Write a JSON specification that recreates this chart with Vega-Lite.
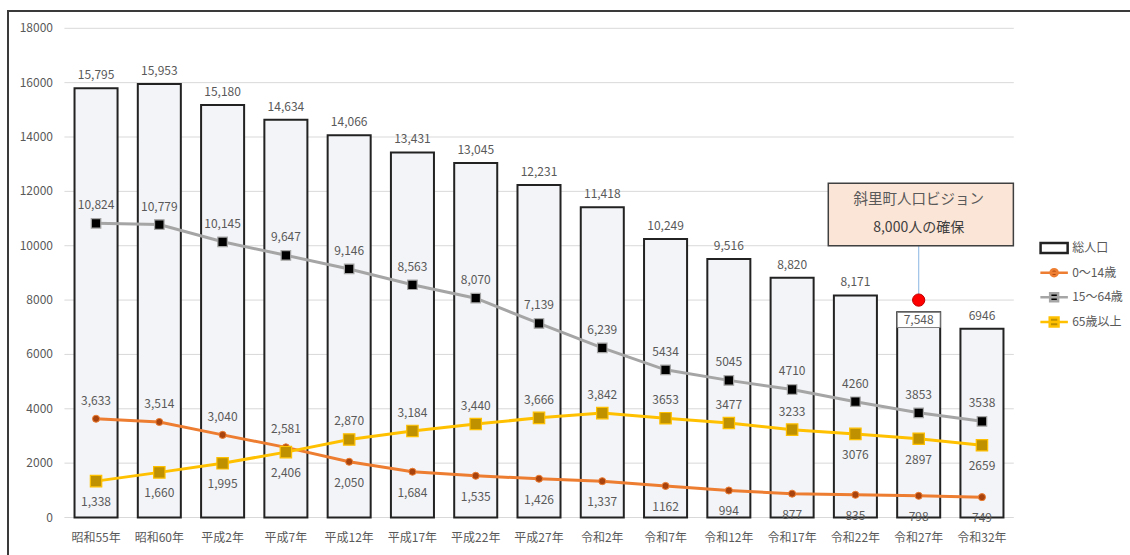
{
  "$schema": "https://vega.github.io/schema/vega-lite/v6.json",
  "width": 1128,
  "height": 550,
  "autosize": {"type": "none"},
  "padding": {"left": 8, "top": 11, "right": -6, "bottom": -6},
  "background": "white",
  "config": {
    "view": {"stroke": "#3a3a3a", "strokeWidth": 2},
    "font": "Noto Sans CJK JP",
    "text": {"font": "Noto Sans CJK JP", "fontSize": 12, "color": "#595959"}
  },
  "datasets": {
    "pop": [
      {"year": "昭和55年", "total": 15795, "tlabel": "15,795"},
      {"year": "昭和60年", "total": 15953, "tlabel": "15,953"},
      {"year": "平成2年", "total": 15180, "tlabel": "15,180"},
      {"year": "平成7年", "total": 14634, "tlabel": "14,634"},
      {"year": "平成12年", "total": 14066, "tlabel": "14,066"},
      {"year": "平成17年", "total": 13431, "tlabel": "13,431"},
      {"year": "平成22年", "total": 13045, "tlabel": "13,045"},
      {"year": "平成27年", "total": 12231, "tlabel": "12,231"},
      {"year": "令和2年", "total": 11418, "tlabel": "11,418"},
      {"year": "令和7年", "total": 10249, "tlabel": "10,249"},
      {"year": "令和12年", "total": 9516, "tlabel": "9,516"},
      {"year": "令和17年", "total": 8820, "tlabel": "8,820"},
      {"year": "令和22年", "total": 8171, "tlabel": "8,171"},
      {"year": "令和27年", "total": 7548, "tlabel": "7,548"},
      {"year": "令和32年", "total": 6946, "tlabel": "6946"}
    ],
    "age": [
      {"year": "昭和55年", "series": "0～14歳", "value": 3633, "label": "3,633"},
      {"year": "昭和60年", "series": "0～14歳", "value": 3514, "label": "3,514"},
      {"year": "平成2年", "series": "0～14歳", "value": 3040, "label": "3,040"},
      {"year": "平成7年", "series": "0～14歳", "value": 2581, "label": "2,581"},
      {"year": "平成12年", "series": "0～14歳", "value": 2050, "label": "2,050"},
      {"year": "平成17年", "series": "0～14歳", "value": 1684, "label": "1,684"},
      {"year": "平成22年", "series": "0～14歳", "value": 1535, "label": "1,535"},
      {"year": "平成27年", "series": "0～14歳", "value": 1426, "label": "1,426"},
      {"year": "令和2年", "series": "0～14歳", "value": 1337, "label": "1,337"},
      {"year": "令和7年", "series": "0～14歳", "value": 1162, "label": "1162"},
      {"year": "令和12年", "series": "0～14歳", "value": 994, "label": "994"},
      {"year": "令和17年", "series": "0～14歳", "value": 877, "label": "877"},
      {"year": "令和22年", "series": "0～14歳", "value": 835, "label": "835"},
      {"year": "令和27年", "series": "0～14歳", "value": 798, "label": "798"},
      {"year": "令和32年", "series": "0～14歳", "value": 749, "label": "749"},
      {"year": "昭和55年", "series": "15～64歳", "value": 10824, "label": "10,824"},
      {"year": "昭和60年", "series": "15～64歳", "value": 10779, "label": "10,779"},
      {"year": "平成2年", "series": "15～64歳", "value": 10145, "label": "10,145"},
      {"year": "平成7年", "series": "15～64歳", "value": 9647, "label": "9,647"},
      {"year": "平成12年", "series": "15～64歳", "value": 9146, "label": "9,146"},
      {"year": "平成17年", "series": "15～64歳", "value": 8563, "label": "8,563"},
      {"year": "平成22年", "series": "15～64歳", "value": 8070, "label": "8,070"},
      {"year": "平成27年", "series": "15～64歳", "value": 7139, "label": "7,139"},
      {"year": "令和2年", "series": "15～64歳", "value": 6239, "label": "6,239"},
      {"year": "令和7年", "series": "15～64歳", "value": 5434, "label": "5434"},
      {"year": "令和12年", "series": "15～64歳", "value": 5045, "label": "5045"},
      {"year": "令和17年", "series": "15～64歳", "value": 4710, "label": "4710"},
      {"year": "令和22年", "series": "15～64歳", "value": 4260, "label": "4260"},
      {"year": "令和27年", "series": "15～64歳", "value": 3853, "label": "3853"},
      {"year": "令和32年", "series": "15～64歳", "value": 3538, "label": "3538"},
      {"year": "昭和55年", "series": "65歳以上", "value": 1338, "label": "1,338"},
      {"year": "昭和60年", "series": "65歳以上", "value": 1660, "label": "1,660"},
      {"year": "平成2年", "series": "65歳以上", "value": 1995, "label": "1,995"},
      {"year": "平成7年", "series": "65歳以上", "value": 2406, "label": "2,406"},
      {"year": "平成12年", "series": "65歳以上", "value": 2870, "label": "2,870"},
      {"year": "平成17年", "series": "65歳以上", "value": 3184, "label": "3,184"},
      {"year": "平成22年", "series": "65歳以上", "value": 3440, "label": "3,440"},
      {"year": "平成27年", "series": "65歳以上", "value": 3666, "label": "3,666"},
      {"year": "令和2年", "series": "65歳以上", "value": 3842, "label": "3,842"},
      {"year": "令和7年", "series": "65歳以上", "value": 3653, "label": "3653"},
      {"year": "令和12年", "series": "65歳以上", "value": 3477, "label": "3477"},
      {"year": "令和17年", "series": "65歳以上", "value": 3233, "label": "3233"},
      {"year": "令和22年", "series": "65歳以上", "value": 3076, "label": "3076"},
      {"year": "令和27年", "series": "65歳以上", "value": 2897, "label": "2897"},
      {"year": "令和32年", "series": "65歳以上", "value": 2659, "label": "2659"}
    ],
    "grid": [{"g": 0}, {"g": 2000}, {"g": 4000}, {"g": 6000}, {"g": 8000}, {"g": 10000}, {"g": 12000}, {"g": 14000}, {"g": 16000}, {"g": 18000}],
    "legendItems": [{"series": "総人口"}, {"series": "0～14歳"}, {"series": "15～64歳"}, {"series": "65歳以上"}]
  },
  "layer": [
    {
      "layer": [
        {
          "data": {"name": "grid"},
          "mark": {"type": "rule", "color": "#D9D9D9", "strokeWidth": 1},
          "encoding": {
            "y": {"field": "g", "type": "quantitative", "axis": null},
            "x": {"datum": "昭和55年", "type": "ordinal", "bandPosition": -0.235, "axis": null},
            "x2": {"datum": "令和32年", "bandPosition": 1.24}
          }
        },
        {
          "data": {"name": "grid"},
          "mark": {"type": "text", "align": "right", "baseline": "middle", "fontSize": 12, "color": "#595959"},
          "encoding": {
            "y": {"field": "g", "type": "quantitative", "axis": null},
            "x": {"datum": "昭和55年", "type": "ordinal", "bandPosition": -0.5, "axis": null},
            "text": {"field": "g", "type": "quantitative", "format": "d"}
          }
        },
        {
          "data": {"name": "pop"},
          "mark": {"type": "bar", "fill": "#F3F4F7", "stroke": "#222222", "strokeWidth": 2},
          "encoding": {
            "x": {
              "field": "year", "type": "ordinal", "sort": null,
              "scale": {
                "domain": ["昭和55年", "昭和60年", "平成2年", "平成7年", "平成12年", "平成17年", "平成22年", "平成27年", "令和2年", "令和7年", "令和12年", "令和17年", "令和22年", "令和27年", "令和32年"],
                "range": [56.4, 1005.6], "paddingInner": 0.32, "paddingOuter": 0.16
              },
              "axis": null
            },
            "y": {
              "field": "total", "type": "quantitative",
              "scale": {"domain": [0, 18000], "range": [506.5, 17.3], "nice": false, "zero": true},
              "axis": null
            }
          }
        },
        {
          "data": {"name": "pop"},
          "mark": {"type": "text", "baseline": "middle", "dy": 20, "fontSize": 12, "color": "#595959"},
          "encoding": {
            "x": {"field": "year", "type": "ordinal"},
            "y": {"datum": 0, "type": "quantitative"},
            "text": {"field": "year"}
          }
        },
        {
          "data": {"name": "pop"},
          "transform": [{"filter": "datum.year !== '令和27年'"}],
          "mark": {"type": "text", "baseline": "middle", "dy": -13},
          "encoding": {
            "x": {"field": "year", "type": "ordinal"},
            "y": {"field": "total", "type": "quantitative"},
            "text": {"field": "tlabel"}
          }
        },
        {
          "data": {"name": "pop"},
          "transform": [{"filter": "datum.year === '令和27年'"}],
          "mark": {"type": "bar", "fill": "white", "stroke": "#7F7F7F", "strokeWidth": 1},
          "encoding": {
            "x": {"field": "year", "type": "ordinal"},
            "y": {"field": "total", "type": "quantitative"},
            "y2": {"datum": 6990}
          }
        },
        {
          "data": {"name": "pop"},
          "transform": [{"filter": "datum.year === '令和27年'"}],
          "mark": {"type": "text", "baseline": "middle", "dy": 8},
          "encoding": {
            "x": {"field": "year", "type": "ordinal"},
            "y": {"field": "total", "type": "quantitative"},
            "text": {"field": "tlabel"}
          }
        },
        {
          "data": {"name": "age"},
          "mark": {"type": "line", "strokeWidth": 3},
          "encoding": {
            "x": {"field": "year", "type": "ordinal"},
            "y": {"field": "value", "type": "quantitative"},
            "stroke": {
              "field": "series", "type": "nominal", "legend": null,
              "scale": {"domain": ["総人口", "0～14歳", "15～64歳", "65歳以上"], "range": ["#222222", "#ED7D31", "#A5A5A5", "#FFC000"]}
            }
          }
        },
        {
          "data": {"name": "age"},
          "transform": [{"filter": "datum.series === '0～14歳'"}],
          "mark": {"type": "point", "filled": true, "shape": "circle", "size": 50, "strokeWidth": 1, "opacity": 1},
          "encoding": {
            "x": {"field": "year", "type": "ordinal"},
            "y": {"field": "value", "type": "quantitative"},
            "fill": {"field": "series", "type": "nominal", "legend": null, "scale": {"domain": ["総人口", "0～14歳", "15～64歳", "65歳以上"], "range": ["#FFFFFF", "#A8430D", "#000000", "#BF9000"]}},
            "stroke": {"field": "series", "type": "nominal", "legend": null}
          }
        },
        {
          "data": {"name": "age"},
          "transform": [{"filter": "datum.series !== '0～14歳'"}],
          "mark": {"type": "point", "filled": true, "shape": "square", "strokeWidth": 1.2, "opacity": 1},
          "encoding": {
            "x": {"field": "year", "type": "ordinal"},
            "y": {"field": "value", "type": "quantitative"},
            "fill": {"field": "series", "type": "nominal", "legend": null},
            "stroke": {"field": "series", "type": "nominal", "legend": null},
            "size": {"field": "series", "type": "nominal", "legend": null, "scale": {"domain": ["15～64歳", "65歳以上"], "range": [90, 130]}}
          }
        },
        {
          "data": {"name": "age"},
          "transform": [{"filter": "datum.series === '15～64歳' || (datum.series === '0～14歳' && indexof(['昭和55年','昭和60年','平成2年','平成7年'], datum.year) >= 0) || (datum.series === '65歳以上' && indexof(['平成12年','平成17年','平成22年','平成27年','令和2年','令和7年','令和12年','令和17年'], datum.year) >= 0)"}],
          "mark": {"type": "text", "baseline": "middle", "dy": -18},
          "encoding": {
            "x": {"field": "year", "type": "ordinal"},
            "y": {"field": "value", "type": "quantitative"},
            "text": {"field": "label"}
          }
        },
        {
          "data": {"name": "age"},
          "transform": [{"filter": "!(datum.series === '15～64歳' || (datum.series === '0～14歳' && indexof(['昭和55年','昭和60年','平成2年','平成7年'], datum.year) >= 0) || (datum.series === '65歳以上' && indexof(['平成12年','平成17年','平成22年','平成27年','令和2年','令和7年','令和12年','令和17年'], datum.year) >= 0))"}],
          "mark": {"type": "text", "baseline": "middle", "dy": 21},
          "encoding": {
            "x": {"field": "year", "type": "ordinal"},
            "y": {"field": "value", "type": "quantitative"},
            "text": {"field": "label"}
          }
        },
        {
          "data": {"values": [{}]},
          "mark": {"type": "rule", "color": "#9DC3E6", "strokeWidth": 1.2},
          "encoding": {
            "x": {"datum": "令和27年", "type": "ordinal"},
            "y": {"datum": 10000, "type": "quantitative"},
            "y2": {"datum": 8000}
          }
        },
        {
          "data": {"values": [{}]},
          "mark": {"type": "rect", "fill": "#FBE5D6", "stroke": "#404040", "strokeWidth": 1.5},
          "encoding": {
            "x": {"datum": "令和22年", "type": "ordinal", "bandPosition": -0.13},
            "x2": {"datum": "令和32年", "bandPosition": 1.23},
            "y": {"datum": 12300, "type": "quantitative"},
            "y2": {"datum": 10000}
          }
        },
        {
          "data": {"values": [{}]},
          "mark": {"type": "text", "baseline": "middle", "fontSize": 14.5, "color": "#595959"},
          "encoding": {
            "x": {"datum": "令和27年", "type": "ordinal"},
            "y": {"datum": 11683, "type": "quantitative"},
            "text": {"value": "斜里町人口ビジョン"}
          }
        },
        {
          "data": {"values": [{}]},
          "mark": {"type": "text", "baseline": "middle", "fontSize": 14, "color": "#404040"},
          "encoding": {
            "x": {"datum": "令和27年", "type": "ordinal"},
            "y": {"datum": 10652, "type": "quantitative"},
            "text": {"value": "8,000人の確保"}
          }
        },
        {
          "data": {"values": [{}]},
          "mark": {"type": "point", "filled": true, "shape": "circle", "size": 150, "fill": "#FF0000", "stroke": "#C00000", "strokeWidth": 1, "opacity": 1},
          "encoding": {
            "x": {"datum": "令和27年", "type": "ordinal"},
            "y": {"datum": 8000, "type": "quantitative"}
          }
        }
      ]
    },
    {
      "data": {"name": "legendItems"},
      "layer": [
        {
          "mark": {"type": "point", "filled": true, "size": 484, "strokeWidth": 2.5, "opacity": 1},
          "encoding": {
            "x": {"datum": "令和32年", "type": "ordinal", "bandPosition": 2.177},
            "y": {"field": "series", "type": "ordinal", "sort": null, "axis": null, "scale": {"type": "point", "domain": ["総人口", "0～14歳", "15～64歳", "65歳以上"], "range": [237, 311], "padding": 0}},
            "shape": {"field": "series", "type": "nominal", "legend": null, "scale": {"domain": ["総人口", "0～14歳", "15～64歳", "65歳以上"], "range": ["M-1.23,-0.45H1.23V0.45H-1.23Z", "M-1.25,0H1.25M-0.32,0A0.32,0.32 0 1,0 0.32,0A0.32,0.32 0 1,0 -0.32,0Z", "M-1.25,0H1.25M-0.36,-0.36H0.36V0.36H-0.36Z", "M-1.25,0H1.25M-0.4,-0.4H0.4V0.4H-0.4Z"]}},
            "fill": {"field": "series", "type": "nominal", "legend": null},
            "stroke": {"field": "series", "type": "nominal", "legend": null}
          }
        },
        {
          "mark": {"type": "text", "align": "left", "baseline": "middle", "fontSize": 12, "color": "#595959"},
          "encoding": {
            "x": {"datum": "令和32年", "type": "ordinal", "bandPosition": 2.596},
            "y": {"field": "series", "type": "ordinal", "sort": null, "axis": null},
            "text": {"field": "series"}
          }
        }
      ]
    }
  ],
  "resolve": {"scale": {"y": "independent"}}
}
